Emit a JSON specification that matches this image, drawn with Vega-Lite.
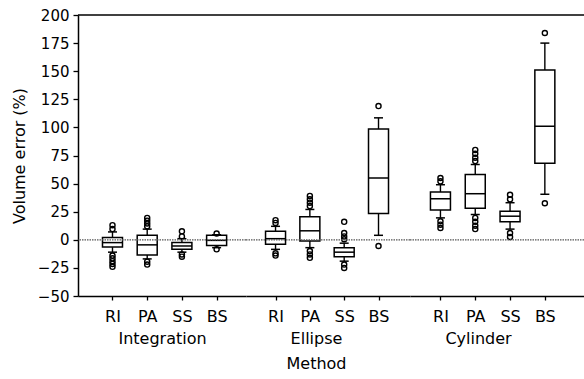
{
  "$schema": "https://vega.github.io/schema/vega-lite/v6.json",
  "padding": {"left": 11, "top": 8, "right": 0, "bottom": 0},
  "background": "white",
  "spacing": 0,
  "bounds": "flush",
  "resolve": {"scale": {"x": "independent", "y": "independent"}},
  "data": {"values": [
    {"method": "Integration", "group": "RI", "lo": -11, "q1": -6.5, "med": -2.5, "q3": 2, "hi": 7},
    {"method": "Integration", "group": "RI", "v": 9.5},
    {"method": "Integration", "group": "RI", "v": 13},
    {"method": "Integration", "group": "RI", "v": -14},
    {"method": "Integration", "group": "RI", "v": -16.5},
    {"method": "Integration", "group": "RI", "v": -19},
    {"method": "Integration", "group": "RI", "v": -21.5},
    {"method": "Integration", "group": "RI", "v": -24},
    {"method": "Integration", "group": "PA", "lo": -17, "q1": -13.5, "med": -4.5, "q3": 4, "hi": 9.5},
    {"method": "Integration", "group": "PA", "v": 12},
    {"method": "Integration", "group": "PA", "v": 14.5},
    {"method": "Integration", "group": "PA", "v": 17},
    {"method": "Integration", "group": "PA", "v": 19.5},
    {"method": "Integration", "group": "PA", "v": -19.5},
    {"method": "Integration", "group": "PA", "v": -22},
    {"method": "Integration", "group": "SS", "lo": -11, "q1": -8.5, "med": -5.5, "q3": -2.5, "hi": 1},
    {"method": "Integration", "group": "SS", "v": 3},
    {"method": "Integration", "group": "SS", "v": 7.5},
    {"method": "Integration", "group": "SS", "v": -13},
    {"method": "Integration", "group": "SS", "v": -15},
    {"method": "Integration", "group": "BS", "lo": -7, "q1": -5, "med": -0.5, "q3": 4, "hi": 4.5},
    {"method": "Integration", "group": "BS", "v": 5.5},
    {"method": "Integration", "group": "BS", "v": -8.5},
    {"method": "Ellipse", "group": "RI", "lo": -8.5, "q1": -4, "med": 1, "q3": 7.5, "hi": 12},
    {"method": "Ellipse", "group": "RI", "v": 15},
    {"method": "Ellipse", "group": "RI", "v": 17.5},
    {"method": "Ellipse", "group": "RI", "v": -12},
    {"method": "Ellipse", "group": "RI", "v": -14},
    {"method": "Ellipse", "group": "PA", "lo": -7, "q1": -1, "med": 8, "q3": 20.5, "hi": 27},
    {"method": "Ellipse", "group": "PA", "v": 30},
    {"method": "Ellipse", "group": "PA", "v": 33},
    {"method": "Ellipse", "group": "PA", "v": 36},
    {"method": "Ellipse", "group": "PA", "v": 39},
    {"method": "Ellipse", "group": "PA", "v": -10},
    {"method": "Ellipse", "group": "PA", "v": -13},
    {"method": "Ellipse", "group": "PA", "v": -16},
    {"method": "Ellipse", "group": "SS", "lo": -19, "q1": -15, "med": -11, "q3": -7, "hi": -3},
    {"method": "Ellipse", "group": "SS", "v": 0.5},
    {"method": "Ellipse", "group": "SS", "v": 3},
    {"method": "Ellipse", "group": "SS", "v": 6},
    {"method": "Ellipse", "group": "SS", "v": 16},
    {"method": "Ellipse", "group": "SS", "v": -22},
    {"method": "Ellipse", "group": "SS", "v": -25},
    {"method": "Ellipse", "group": "BS", "lo": 4, "q1": 23.5, "med": 55, "q3": 98.5, "hi": 108.5},
    {"method": "Ellipse", "group": "BS", "v": 119},
    {"method": "Ellipse", "group": "BS", "v": -5.5},
    {"method": "Cylinder", "group": "RI", "lo": 19.5, "q1": 26.5, "med": 36.5, "q3": 42.5, "hi": 49},
    {"method": "Cylinder", "group": "RI", "v": 52},
    {"method": "Cylinder", "group": "RI", "v": 55},
    {"method": "Cylinder", "group": "RI", "v": 16.5},
    {"method": "Cylinder", "group": "RI", "v": 13.5},
    {"method": "Cylinder", "group": "RI", "v": 10.5},
    {"method": "Cylinder", "group": "PA", "lo": 22.5, "q1": 28, "med": 41, "q3": 58, "hi": 67},
    {"method": "Cylinder", "group": "PA", "v": 70},
    {"method": "Cylinder", "group": "PA", "v": 73},
    {"method": "Cylinder", "group": "PA", "v": 76.5},
    {"method": "Cylinder", "group": "PA", "v": 80},
    {"method": "Cylinder", "group": "PA", "v": 19.5},
    {"method": "Cylinder", "group": "PA", "v": 16},
    {"method": "Cylinder", "group": "PA", "v": 12.5},
    {"method": "Cylinder", "group": "PA", "v": 9.5},
    {"method": "Cylinder", "group": "SS", "lo": 9.5, "q1": 16, "med": 21, "q3": 25.5, "hi": 33},
    {"method": "Cylinder", "group": "SS", "v": 36},
    {"method": "Cylinder", "group": "SS", "v": 40},
    {"method": "Cylinder", "group": "SS", "v": 6},
    {"method": "Cylinder", "group": "SS", "v": 2.5},
    {"method": "Cylinder", "group": "BS", "lo": 40.5, "q1": 68, "med": 101, "q3": 151, "hi": 175},
    {"method": "Cylinder", "group": "BS", "v": 184},
    {"method": "Cylinder", "group": "BS", "v": 32.5}
  ]},
  "hconcat": [
    {
      "width": 168, "height": 281,
      "layer": [
        {"data": {"values": [{}]}, "mark": {"type": "rule", "color": "black", "strokeWidth": 1.5},
         "encoding": {"y": {"datum": 200, "type": "quantitative", "scale": {"domain": [-50, 200], "nice": false}, "axis": {"title": "Volume error (%)", "values": [-50, -25, 0, 25, 50, 75, 100, 125, 150, 175, 200]}}}},
        {"transform": [{"filter": "datum.method === 'Integration'"}],
         "encoding": {"x": {"field": "group", "type": "nominal", "scale": {"type": "point", "domain": ["RI", "PA", "SS", "BS"], "padding": 0.92, "align": 0.54}, "axis": {"title": "Integration"}}},
         "layer": [
           {"mark": {"type": "rule", "color": "black", "strokeWidth": 1.4}, "encoding": {"y": {"field": "lo", "type": "quantitative", "scale": {"domain": [-50, 200], "nice": false}, "axis": {"title": "Volume error (%)", "values": [-50, -25, 0, 25, 50, 75, 100, 125, 150, 175, 200]}}, "y2": {"field": "hi"}}},
           {"mark": {"type": "bar", "size": 20, "fill": "white", "stroke": "black", "strokeWidth": 1.5}, "encoding": {"y": {"field": "q1", "type": "quantitative", "scale": {"domain": [-50, 200], "nice": false}, "axis": {"title": "Volume error (%)", "values": [-50, -25, 0, 25, 50, 75, 100, 125, 150, 175, 200]}}, "y2": {"field": "q3"}}},
           {"mark": {"type": "tick", "size": 20, "thickness": 1.5, "color": "black", "opacity": 1}, "encoding": {"y": {"field": "med", "type": "quantitative", "scale": {"domain": [-50, 200], "nice": false}, "axis": {"title": "Volume error (%)", "values": [-50, -25, 0, 25, 50, 75, 100, 125, 150, 175, 200]}}}},
           {"mark": {"type": "tick", "size": 9, "thickness": 1.5, "color": "black", "opacity": 1}, "encoding": {"y": {"field": "lo", "type": "quantitative", "scale": {"domain": [-50, 200], "nice": false}, "axis": {"title": "Volume error (%)", "values": [-50, -25, 0, 25, 50, 75, 100, 125, 150, 175, 200]}}}},
           {"mark": {"type": "tick", "size": 9, "thickness": 1.5, "color": "black", "opacity": 1}, "encoding": {"y": {"field": "hi", "type": "quantitative", "scale": {"domain": [-50, 200], "nice": false}, "axis": {"title": "Volume error (%)", "values": [-50, -25, 0, 25, 50, 75, 100, 125, 150, 175, 200]}}}},
           {"mark": {"type": "point", "shape": "circle", "filled": false, "size": 26, "strokeWidth": 1.4, "color": "black", "opacity": 1}, "encoding": {"y": {"field": "v", "type": "quantitative", "scale": {"domain": [-50, 200], "nice": false}, "axis": {"title": "Volume error (%)", "values": [-50, -25, 0, 25, 50, 75, 100, 125, 150, 175, 200]}}}}
         ]},
        {"data": {"values": [{}]}, "mark": {"type": "rule", "color": "#555", "strokeWidth": 1.2, "strokeDash": [1.5, 1]},
         "encoding": {"y": {"datum": 0, "type": "quantitative", "scale": {"domain": [-50, 200], "nice": false}, "axis": {"title": "Volume error (%)", "values": [-50, -25, 0, 25, 50, 75, 100, 125, 150, 175, 200]}}}}
      ]
    },
    {
      "width": 164, "height": 281,
      "layer": [
        {"data": {"values": [{}]}, "mark": {"type": "rule", "color": "black", "strokeWidth": 1.5},
         "encoding": {"y": {"datum": 200, "type": "quantitative", "scale": {"domain": [-50, 200], "nice": false}, "axis": null}}},
        {"transform": [{"filter": "datum.method === 'Ellipse'"}],
         "encoding": {"x": {"field": "group", "type": "nominal", "scale": {"type": "point", "domain": ["RI", "PA", "SS", "BS"], "padding": 0.889, "align": 0.484}, "axis": {"title": ["Ellipse", "Method"], "titleX": 70}}},
         "layer": [
           {"mark": {"type": "rule", "color": "black", "strokeWidth": 1.4}, "encoding": {"y": {"field": "lo", "type": "quantitative", "scale": {"domain": [-50, 200], "nice": false}, "axis": null}, "y2": {"field": "hi"}}},
           {"mark": {"type": "bar", "size": 20, "fill": "white", "stroke": "black", "strokeWidth": 1.5}, "encoding": {"y": {"field": "q1", "type": "quantitative", "scale": {"domain": [-50, 200], "nice": false}, "axis": null}, "y2": {"field": "q3"}}},
           {"mark": {"type": "tick", "size": 20, "thickness": 1.5, "color": "black", "opacity": 1}, "encoding": {"y": {"field": "med", "type": "quantitative", "scale": {"domain": [-50, 200], "nice": false}, "axis": null}}},
           {"mark": {"type": "tick", "size": 9, "thickness": 1.5, "color": "black", "opacity": 1}, "encoding": {"y": {"field": "lo", "type": "quantitative", "scale": {"domain": [-50, 200], "nice": false}, "axis": null}}},
           {"mark": {"type": "tick", "size": 9, "thickness": 1.5, "color": "black", "opacity": 1}, "encoding": {"y": {"field": "hi", "type": "quantitative", "scale": {"domain": [-50, 200], "nice": false}, "axis": null}}},
           {"mark": {"type": "point", "shape": "circle", "filled": false, "size": 26, "strokeWidth": 1.4, "color": "black", "opacity": 1}, "encoding": {"y": {"field": "v", "type": "quantitative", "scale": {"domain": [-50, 200], "nice": false}, "axis": null}}}
         ]},
        {"data": {"values": [{}]}, "mark": {"type": "rule", "color": "#555", "strokeWidth": 1.2, "strokeDash": [1.5, 1]},
         "encoding": {"y": {"datum": 0, "type": "quantitative", "scale": {"domain": [-50, 200], "nice": false}, "axis": null}}}
      ]
    },
    {
      "width": 174, "height": 281,
      "layer": [
        {"data": {"values": [{}]}, "mark": {"type": "rule", "color": "black", "strokeWidth": 1.5},
         "encoding": {"y": {"datum": 200, "type": "quantitative", "scale": {"domain": [-50, 200], "nice": false}, "axis": null}}},
        {"transform": [{"filter": "datum.method === 'Cylinder'"}],
         "encoding": {"x": {"field": "group", "type": "nominal", "scale": {"type": "point", "domain": ["RI", "PA", "SS", "BS"], "padding": 1.059, "align": 0.4375}, "axis": {"title": "Cylinder", "titleX": 68}}},
         "layer": [
           {"mark": {"type": "rule", "color": "black", "strokeWidth": 1.4}, "encoding": {"y": {"field": "lo", "type": "quantitative", "scale": {"domain": [-50, 200], "nice": false}, "axis": null}, "y2": {"field": "hi"}}},
           {"mark": {"type": "bar", "size": 20, "fill": "white", "stroke": "black", "strokeWidth": 1.5}, "encoding": {"y": {"field": "q1", "type": "quantitative", "scale": {"domain": [-50, 200], "nice": false}, "axis": null}, "y2": {"field": "q3"}}},
           {"mark": {"type": "tick", "size": 20, "thickness": 1.5, "color": "black", "opacity": 1}, "encoding": {"y": {"field": "med", "type": "quantitative", "scale": {"domain": [-50, 200], "nice": false}, "axis": null}}},
           {"mark": {"type": "tick", "size": 9, "thickness": 1.5, "color": "black", "opacity": 1}, "encoding": {"y": {"field": "lo", "type": "quantitative", "scale": {"domain": [-50, 200], "nice": false}, "axis": null}}},
           {"mark": {"type": "tick", "size": 9, "thickness": 1.5, "color": "black", "opacity": 1}, "encoding": {"y": {"field": "hi", "type": "quantitative", "scale": {"domain": [-50, 200], "nice": false}, "axis": null}}},
           {"mark": {"type": "point", "shape": "circle", "filled": false, "size": 26, "strokeWidth": 1.4, "color": "black", "opacity": 1}, "encoding": {"y": {"field": "v", "type": "quantitative", "scale": {"domain": [-50, 200], "nice": false}, "axis": null}}}
         ]},
        {"data": {"values": [{}]}, "mark": {"type": "rule", "color": "#555", "strokeWidth": 1.2, "strokeDash": [1.5, 1]},
         "encoding": {"y": {"datum": 0, "type": "quantitative", "scale": {"domain": [-50, 200], "nice": false}, "axis": null}}}
      ]
    }
  ],
  "config": {
    "view": {"stroke": null},
    "axis": {"labelFont": "DejaVu Sans", "titleFont": "DejaVu Sans", "labelColor": "black", "titleColor": "black", "domainColor": "black", "tickColor": "black", "grid": false, "titleFontWeight": "normal", "domainWidth": 1.5, "tickWidth": 1.3},
    "axisX": {"labelAngle": 0, "labelFontSize": 16, "titleFontSize": 16, "tickSize": 4, "labelPadding": 8, "titlePadding": 6, "titleLineHeight": 25},
    "axisY": {"labelFontSize": 15, "titleFontSize": 16, "tickSize": 5, "labelPadding": 4, "titlePadding": 9.5}
  }
}
